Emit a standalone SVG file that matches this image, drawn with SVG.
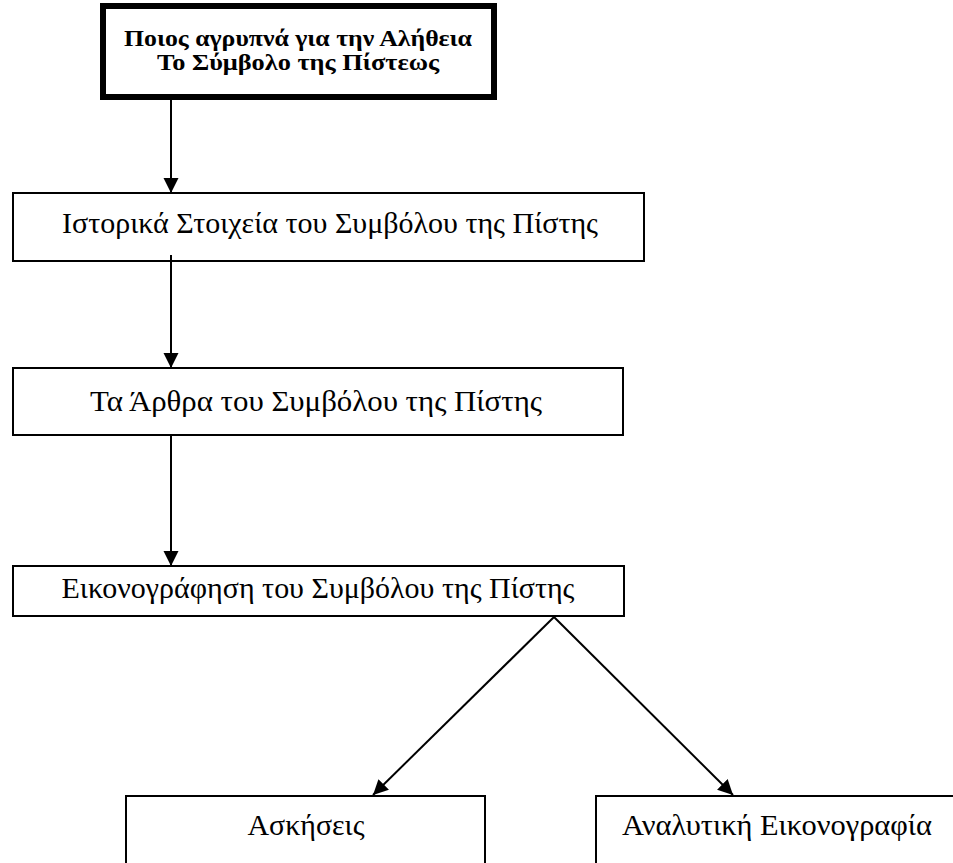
<svg xmlns="http://www.w3.org/2000/svg" width="953" height="863" viewBox="0 0 953 863">
<style>
.box{fill:#fff;stroke:#000;stroke-width:2}
.t{font-family:"Liberation Serif","Times New Roman",serif;font-size:30px;fill:#000;text-anchor:middle}
.tb{font-family:"Liberation Serif","Times New Roman",serif;font-size:24px;font-weight:bold;fill:#000;text-anchor:middle}
.c{stroke:#000;stroke-width:2;fill:none;marker-end:url(#ah)}
</style>
<defs>
<marker id="ah" markerUnits="userSpaceOnUse" markerWidth="16" markerHeight="16" refX="15" refY="7.5" orient="auto">
<path d="M0,0 L15,7.5 L0,15 z" fill="#000"/>
</marker>
</defs>
<g id="n1">
<rect x="103" y="6" width="391" height="91" fill="#fff" stroke="#000" stroke-width="6"/>
<text class="tb" x="298" y="46" textLength="348" lengthAdjust="spacingAndGlyphs">Ποιος αγρυπνά για την Αλήθεια</text>
<text class="tb" x="298" y="70" textLength="282" lengthAdjust="spacingAndGlyphs">Το Σύμβολο της Πίστεως</text>
</g>
<g id="n2">
<rect class="box" x="13" y="193" width="631" height="68"/>
<text class="t" x="330" y="233" textLength="536" lengthAdjust="spacingAndGlyphs">Ιστορικά Στοιχεία του Συμβόλου της Πίστης</text>
</g>
<g id="n3">
<rect class="box" x="13" y="368" width="610" height="67"/>
<text class="t" x="316" y="411" textLength="452" lengthAdjust="spacingAndGlyphs">Τα Άρθρα του Συμβόλου της Πίστης</text>
</g>
<g id="n4">
<rect class="box" x="13" y="566" width="611" height="50"/>
<text class="t" x="318" y="598" textLength="513" lengthAdjust="spacingAndGlyphs">Εικονογράφηση του Συμβόλου της Πίστης</text>
</g>
<g id="n5">
<rect class="box" x="126" y="796" width="359" height="80"/>
<text class="t" x="306" y="835" textLength="117" lengthAdjust="spacingAndGlyphs">Ασκήσεις</text>
</g>
<g id="n6">
<rect class="box" x="596" y="796" width="370" height="80"/>
<text class="t" x="777" y="835" textLength="310" lengthAdjust="spacingAndGlyphs">Αναλυτική Εικονογραφία</text>
</g>
<g id="connectors">
<line class="c" x1="171" y1="100" x2="171" y2="193"/>
<line class="c" x1="171" y1="255" x2="171" y2="368"/>
<line class="c" x1="171" y1="435" x2="171" y2="566"/>
<line class="c" x1="554" y1="617" x2="373" y2="795"/>
<line class="c" x1="554" y1="617" x2="733" y2="795"/>
</g>
</svg>
